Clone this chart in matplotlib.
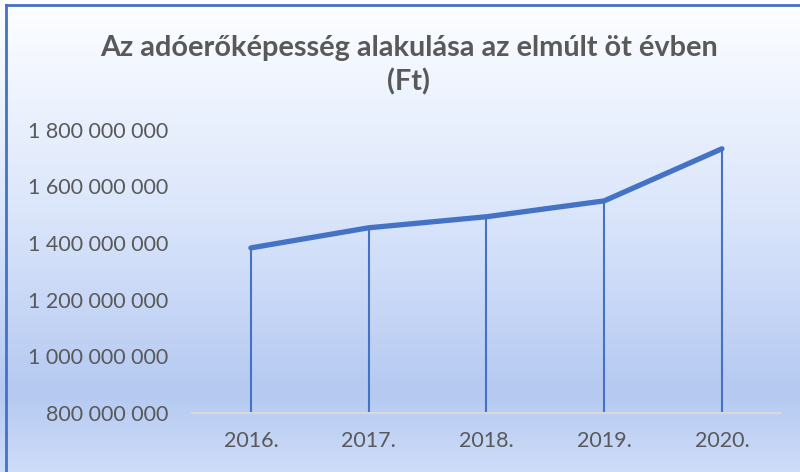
import numpy as np
import matplotlib
matplotlib.use("Agg")
import matplotlib.pyplot as plt
from matplotlib.colors import LinearSegmentedColormap
from matplotlib.ticker import FuncFormatter

years = ["2016.", "2017.", "2018.", "2019.", "2020."]
values = [1383000000, 1454000000, 1493000000, 1549000000, 1733000000]
yticks = [800000000, 1000000000, 1200000000, 1400000000, 1600000000, 1800000000]

blue = "#4472C4"
gray = "#595959"

plt.rcParams['font.family'] = ['Lato', 'DejaVu Sans']

fig = plt.figure(figsize=(8, 4.72), dpi=100)

# background gradient
bg = fig.add_axes([0, 0, 1, 1], zorder=0)
stops = [(0.0, "#fdfeff"), (0.08, "#f7faff"), (0.45, "#dbe6fb"),
         (0.83, "#b5c9f1"), (1.0, "#cddcf8")]
cmap = LinearSegmentedColormap.from_list("bg", stops)
grad = np.linspace(0, 1, 256).reshape(-1, 1)
bg.imshow(grad, aspect="auto", cmap=cmap, extent=[0, 1, 0, 1])
bg.set_xlim(0, 1)
bg.set_ylim(0, 1)
bg.axis("off")
# border (only left and top visible)
bg.plot([0.0075, 0.0075], [0, 0.99], color=blue, lw=2)
bg.plot([0.0075, 1], [0.99, 0.99], color=blue, lw=2)

ax = fig.add_axes([0.24, 0.125, 0.736, 0.6], zorder=1)
ax.patch.set_alpha(0)
x = np.arange(len(years))
ax.vlines(x, 800000000, values, color=blue, lw=1.5)
ax.plot(x, values, color=blue, lw=3.8, solid_capstyle="round", solid_joinstyle="round")

ax.set_xlim(-0.5, len(years) - 0.5)
ax.set_ylim(800000000, 1800000000)
ax.set_xticks(x)
ax.set_xticklabels(years)
ax.set_yticks(yticks)
ax.yaxis.set_major_formatter(FuncFormatter(lambda v, p: "{:,.0f}".format(v).replace(",", " ")))
ax.tick_params(axis="both", length=0, labelsize=15.5, colors=gray)
ax.tick_params(axis="y", pad=17)
ax.tick_params(axis="x", pad=13)
for s in ["top", "right", "left"]:
    ax.spines[s].set_visible(False)
ax.spines["bottom"].set_color("#d9d9d9")
ax.spines["bottom"].set_linewidth(1.5)

fig.text(0.511, 0.862, "Az adóerőképesség alakulása az elmúlt öt évben\n(Ft)",
         ha="center", va="center", fontsize=20.8, fontweight="bold", color=gray,
         linespacing=1.3)

fig.savefig("out.png", dpi=100)
